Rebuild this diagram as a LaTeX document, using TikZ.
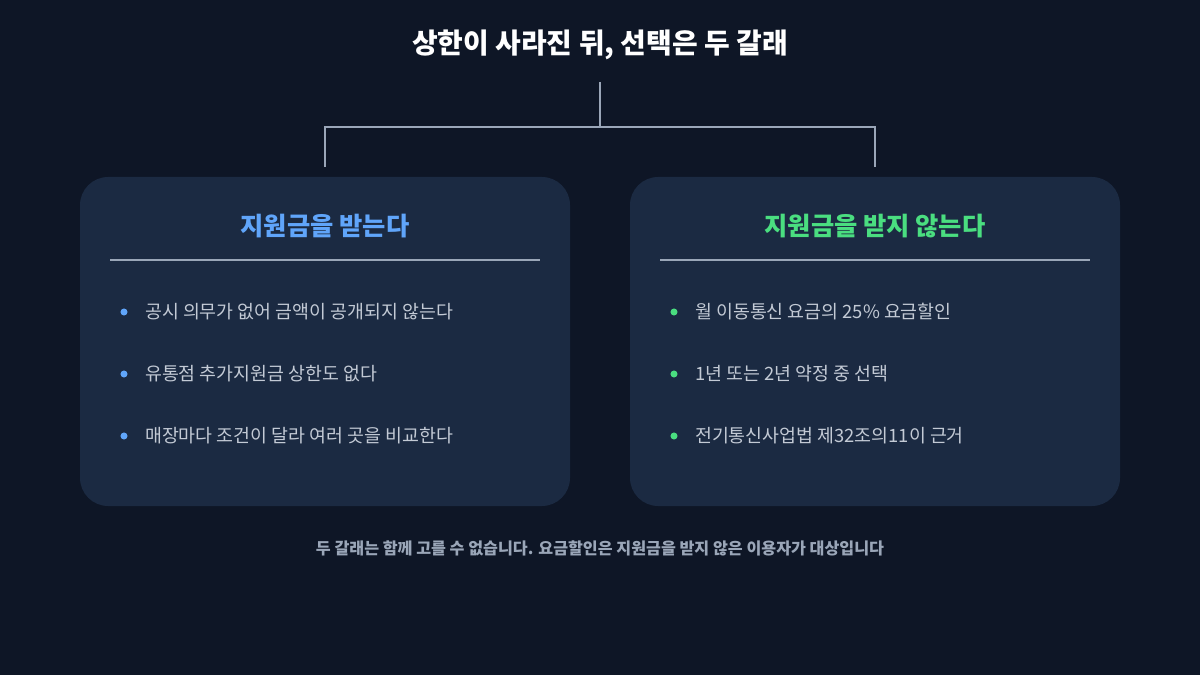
\documentclass[tikz,border=0pt]{standalone}
\usepackage{fontspec}
\setmainfont{Noto Sans CJK KR}
\usetikzlibrary{positioning}
\definecolor{bgcol}{HTML}{0E1626}
\definecolor{cardcol}{HTML}{1B2A42}
\definecolor{linecol}{HTML}{9AA6B8}
\definecolor{bluecol}{HTML}{60A5FA}
\definecolor{greencol}{HTML}{4ADE80}
\definecolor{textcol}{HTML}{C3CAD5}
\tikzset{
  card/.style={fill=cardcol, rounded corners=16, draw=none},
  head/.style={font=\fontsize{14.4pt}{17pt}\selectfont\bfseries},
  item/.style={anchor=west, text=textcol, font=\fontsize{10.45pt}{13pt}\selectfont},
  dot/.style={circle, inner sep=0pt, minimum size=4pt}
}
\begin{document}
\begin{tikzpicture}[x=0.02cm, y=-0.02cm]
\useasboundingbox[fill=bgcol] (0,0) rectangle (1200,675);

% Title and tree
\node (title) at (600,45) [text=white, font=\fontsize{15.9pt}{19pt}\selectfont\bfseries] {상한이 사라진 뒤, 선택은 두 갈래};
\coordinate (top) at (600,82);
\coordinate (mid) at (600,127);
\coordinate (tl) at (325,127);
\coordinate (tr) at (875,127);
\coordinate (bl) at (325,167);
\coordinate (br) at (875,167);
\draw [linecol, line width=1.6pt] (top) -- (mid);
\draw [linecol, line width=1.6pt] (bl) -- (tl) -- (tr) -- (br);

% Cards
\draw [card] (80,177) rectangle (570,506);
\draw [card] (630,177) rectangle (1120,506);

% Left card
\node (lhead) at (325,226) [head, text=bluecol] {지원금을 받는다};
\draw [linecol, line width=0.6pt] (110,260) -- (540,260);
\foreach \y/\t in {312/공시 의무가 없어 금액이 공개되지 않는다, 374/유통점 추가지원금 상한도 없다, 436/매장마다 조건이 달라 여러 곳을 비교한다} {
  \node [dot, fill=bluecol] at (124,\y) {};
  \node [item] at (139,\y) {\t};
}

% Right card
\node (rhead) at (875,226) [head, text=greencol] {지원금을 받지 않는다};
\draw [linecol, line width=0.6pt] (660,260) -- (1090,260);
\foreach \y/\t in {312/월 이동통신 요금의 25\% 요금할인, 374/1년 또는 2년 약정 중 선택, 436/전기통신사업법 제32조의11이 근거} {
  \node [dot, fill=greencol] at (674,\y) {};
  \node [item] at (689,\y) {\t};
}

% Footer
\node (foot) at (600,548) [text=linecol, font=\fontsize{9.2pt}{11pt}\selectfont\bfseries] {두 갈래는 함께 고를 수 없습니다. 요금할인은 지원금을 받지 않은 이용자가 대상입니다};
\end{tikzpicture}
\end{document}
